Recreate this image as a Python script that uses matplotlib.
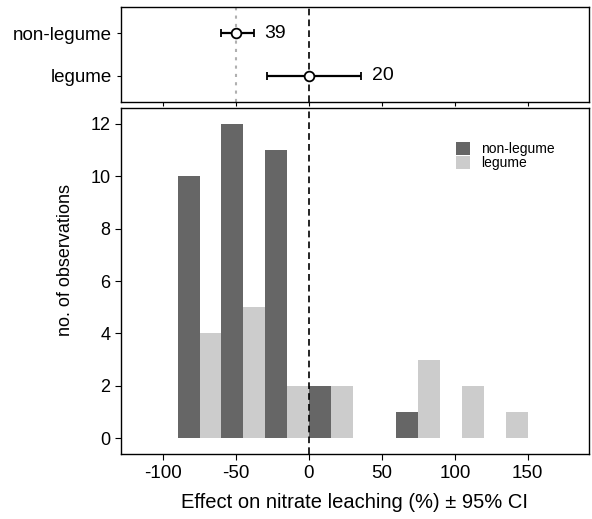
import numpy as np
import matplotlib.pyplot as plt

plt.rcParams['font.family'] = ['Liberation Sans', 'DejaVu Sans']
plt.rcParams['axes.unicode_minus'] = False

# histogram bins (width 30, starting at -90)
bin_centers = np.array([-75, -45, -15, 15, 45, 75, 105, 135])
counts_nonlegume = [10, 12, 11, 2, 0, 1, 0, 0]
counts_legume = [4, 5, 2, 2, 0, 3, 2, 1]

# mean effect and 95% CI
groups = ["non-legume", "legume"]
means = [-50, 0]
ci_low = [-60.5, -28.5]
ci_high = [-37.5, 36]
n_obs = [39, 20]

dark = '#666666'
light = '#cccccc'

fig = plt.figure(figsize=(5.92, 5.19), dpi=100)
ax_top = fig.add_axes([0.204, 0.804, 0.791, 0.182])
ax = fig.add_axes([0.204, 0.125, 0.791, 0.667])

xlim = (-129, 192)

# top panel: means with CI
ypos = [1, 2]
ax_top.axvline(-50, color='#b0b0b0', ls=(0, (1.5, 2.5)), lw=1.5, zorder=1)
ax_top.axvline(0, color='black', ls=(0, (4, 2.5)), lw=1.2, zorder=1)
for y, m, lo, hi, n in zip(ypos, means, ci_low, ci_high, n_obs):
    ax_top.errorbar(m, y, xerr=[[m - lo], [hi - m]], fmt='o', color='black',
                    mfc='white', mec='black', ms=7, mew=1.3, elinewidth=1.6,
                    capsize=3, capthick=1.6, zorder=3)
    ax_top.text(hi + 7, y, str(n), va='center', ha='left', fontsize=14)
ax_top.set_xlim(xlim)
ax_top.set_ylim(2.6, 0.4)
ax_top.set_yticks(ypos)
ax_top.set_yticklabels(groups, fontsize=13.5)
ax_top.set_xticks([-100, -50, 0, 50, 100, 150])
ax_top.set_xticklabels([])
ax_top.tick_params(length=3, width=0.8, colors='black')

# bottom panel: histogram
ax.bar(bin_centers - 7.5, counts_nonlegume, width=15, color=dark,
       edgecolor='none', label='non-legume', zorder=2)
ax.bar(bin_centers + 7.5, counts_legume, width=15, color=light,
       edgecolor='none', label='legume', zorder=2)
ax.axvline(0, color='black', ls=(0, (4, 2.5)), lw=1.2, zorder=3)
ax.set_xlim(xlim)
ax.set_ylim(-0.6, 12.6)
ax.set_yticks(range(0, 13, 2))
ax.set_xticks([-100, -50, 0, 50, 100, 150])
ax.tick_params(axis='x', labelsize=13.5, length=4, width=0.8)
ax.tick_params(axis='y', labelsize=13, length=4, width=0.8)
ax.set_ylabel("no. of observations", fontsize=13)
ax.yaxis.set_label_coords(-0.1, 0.56)
ax.set_xlabel("Effect on nitrate leaching (%) \u00b1 95% CI", fontsize=14.5,
              labelpad=8)
ax.legend(loc='upper left', bbox_to_anchor=(0.705, 0.917), frameon=False,
          fontsize=10, handlelength=1.0, handleheight=1.0,
          handletextpad=0.8, labelspacing=0.0, borderaxespad=0)

for a in (ax_top, ax):
    for s in a.spines.values():
        s.set_linewidth(1.0)

fig.savefig('out.png', dpi=100)
